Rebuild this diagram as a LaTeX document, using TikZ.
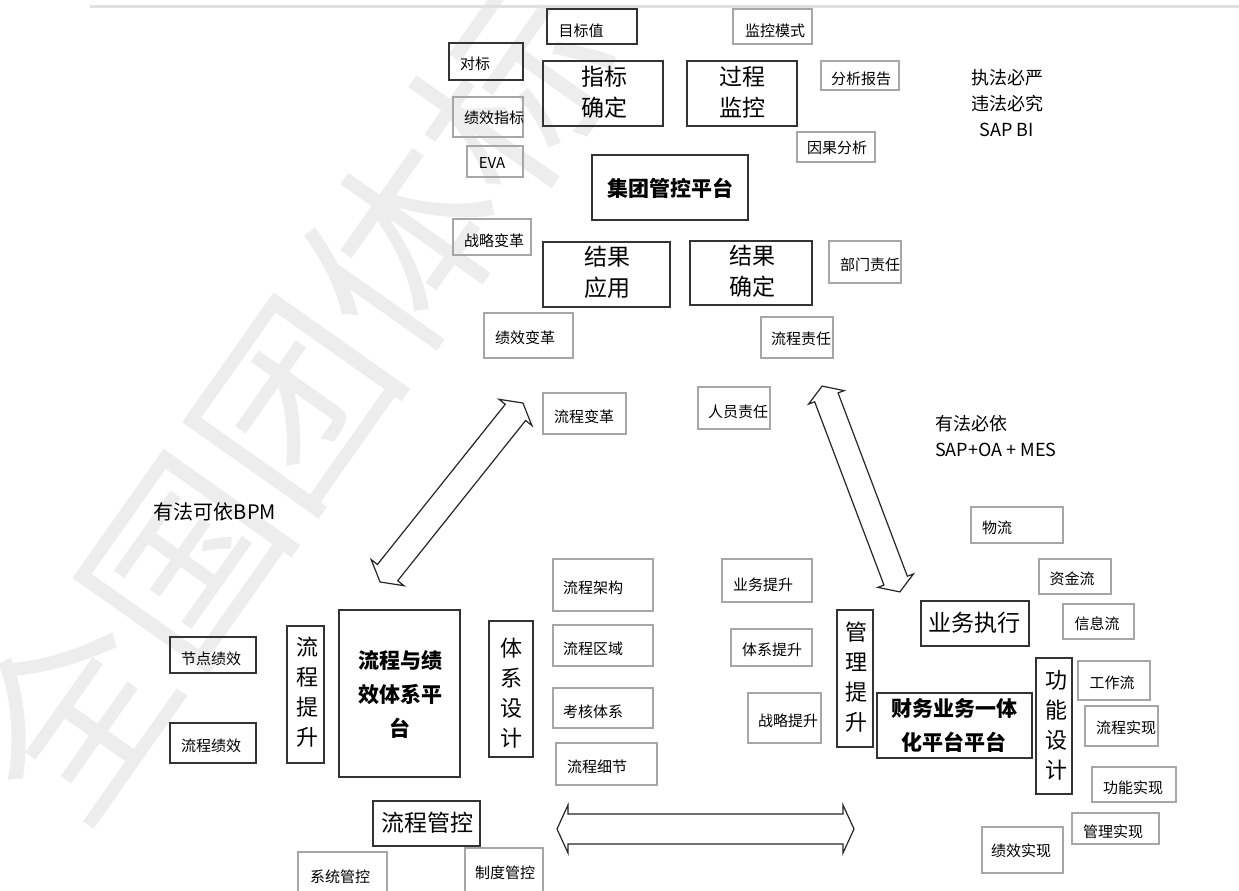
\documentclass[tikz,border=0pt]{standalone}
\usepackage{fontspec}
\setmainfont{Noto Sans CJK SC}
\usetikzlibrary{fit}
\tikzset{
  dbox/.style={draw=black!80, line width=1.3pt, inner sep=0pt},
  gbox/.style={draw=black!35, line width=1.4pt, inner sep=0pt},
  lbl/.style={inner sep=0pt, font=\fontsize{15}{18}\selectfont},
  big/.style={inner sep=0pt, font=\fontsize{23}{31}\selectfont, align=center},
  bigb/.style={inner sep=0pt, font=\fontsize{21}{34}\selectfont\bfseries, align=center},
  vert/.style={inner sep=0pt, font=\fontsize{22}{30}\selectfont, align=center},
  note/.style={inner sep=0pt, font=\fontsize{18}{26}\selectfont, align=left},
  blockarrow/.style={draw=black!85, line width=1.2pt, fill=white, line join=miter},
}
% box with separately placed text
\newcommand\bx[7]{\node[#1, fit={(#3)(#4)}] (#2) {}; \node[#6] (#2-t) at (#5) {#7};}
% block double arrow: centre, angle, length, shaft half width, head half width, head length
\newcommand\dblarrow[6]{%
  \begin{scope}[shift={(#1)}, rotate=#2]
    \draw[blockarrow] (-#3/2,0) -- (-#3/2+#6,#5) -- (-#3/2+#6,#4) -- (#3/2-#6,#4) -- (#3/2-#6,#5)
      -- (#3/2,0) -- (#3/2-#6,-#5) -- (#3/2-#6,-#4) -- (-#3/2+#6,-#4) -- (-#3/2+#6,-#5) -- cycle;
  \end{scope}}
\begin{document}
\begin{tikzpicture}[x=1pt, y=-1pt]
\useasboundingbox (0,0) rectangle (1239,891);
\begin{scope}
\clip (0,0) rectangle (1239,891);
\fill[white] (0,0) rectangle (1239,891);
% watermark
\node[inner sep=0pt, anchor=west, rotate=54.8, text=black!7, font=\fontsize{191}{191}\selectfont] (wm) at (17,793) {全国团体标};
% top shadow line
\draw[black!12, line width=3pt] (90,7) -- (1239,7);

% ---------- top group ----------
\bx{dbox}{mbz}{547,9}{637,44}{581,31}{lbl}{目标值}
\bx{gbox}{jkms}{733,9}{812,44}{775,31}{lbl}{监控模式}
\bx{dbox}{db}{449,43}{523,80}{475,64}{lbl}{对标}
\bx{dbox}{zbqd}{543,61}{663,126}{604,92}{big}{指标\\确定}
\bx{dbox}{gcjk}{687,61}{797,126}{742,92}{big}{过程\\监控}
\bx{gbox}{fxbg}{821,61}{899,90}{861,79}{lbl}{分析报告}
\bx{gbox}{jxzb}{453,97}{523,137}{494,118}{lbl}{绩效指标}
\bx{gbox}{ygfx}{797,132}{875,162}{837,148}{lbl}{因果分析}
\bx{gbox}{eva}{467,146}{523,177}{492,163}{lbl}{EVA}
\bx{dbox}{jtgk}{592,155}{748,220}{670,188}{bigb}{集团管控平台}
\bx{gbox}{zlbg}{453,219}{531,255}{494,241}{lbl}{战略变革}
\bx{dbox}{jgyy}{543,242}{670,307}{607,272}{big}{结果\\应用}
\bx{dbox}{jgqd}{690,241}{812,305}{752,271}{big}{结果\\确定}
\bx{gbox}{bmzr}{829,241}{901,283}{870,265}{lbl}{部门责任}
\bx{gbox}{jxbg}{484,313}{573,358}{525,338}{lbl}{绩效变革}
\bx{gbox}{lczr}{761,317}{833,358}{801,339}{lbl}{流程责任}
\bx{gbox}{lcbg}{543,393}{626,434}{584,417}{lbl}{流程变革}
\bx{gbox}{ryzr}{698,387}{770,429}{738,412}{lbl}{人员责任}

\node[note, align=center] (zf) at (1007,103) {执法必严\\违法必究\\SAP BI};
\node[note, anchor=north west] (yfby) at (935,415) {有法必依\\SAP+OA + MES};
\node[inner sep=0pt, font=\fontsize{20}{24}\selectfont] (yfky) at (215,512) {有法可依BPM};

% ---------- left group ----------
\bx{dbox}{jdjx}{170,637}{256,673}{211,659}{lbl}{节点绩效}
\bx{dbox}{lcjx}{170,723}{256,763}{211,746}{lbl}{流程绩效}
\bx{dbox}{lcts}{287,626}{324,763}{307,692}{vert}{流\\程\\提\\升}
\bx{dbox}{lcpt}{339,610}{460,777}{400,694}{bigb}{流程与绩\\效体系平\\台}
\bx{dbox}{txsj}{489,621}{533,757}{511,693}{vert}{体\\系\\设\\计}
\bx{dbox}{lcgk}{373,801}{480,846}{427,823}{big}{流程管控}
\bx{gbox}{xtgk}{298,852}{387,900}{340,877}{lbl}{系统管控}
\bx{gbox}{zdgk}{465,848}{543,900}{505,873}{lbl}{制度管控}

% ---------- middle ----------
\bx{gbox}{lcjg}{553,559}{653,611}{593,588}{lbl}{流程架构}
\bx{gbox}{lcqy}{553,625}{653,666}{593,649}{lbl}{流程区域}
\bx{gbox}{khtx}{553,688}{653,728}{593,712}{lbl}{考核体系}
\bx{gbox}{lcxj}{556,743}{657,785}{597,767}{lbl}{流程细节}
\bx{gbox}{ywts}{722,559}{812,602}{763,585}{lbl}{业务提升}
\bx{gbox}{txts}{731,629}{812,666}{772,650}{lbl}{体系提升}
\bx{gbox}{zlts}{748,693}{821,743}{788,721}{lbl}{战略提升}
\bx{dbox}{glts}{837,610}{873,747}{856,677}{vert}{管\\理\\提\\升}

% ---------- right group ----------
\bx{gbox}{wl}{971,507}{1063,543}{997,528}{lbl}{物流}
\bx{gbox}{zjl}{1039,559}{1111,594}{1072,579}{lbl}{资金流}
\bx{gbox}{xxl}{1063,604}{1134,639}{1097,624}{lbl}{信息流}
\bx{dbox}{ywzx}{921,601}{1029,646}{974,623}{big}{业务执行}
\bx{dbox}{cwyw}{877,693}{1032,758}{954,725}{bigb}{财务业务一体\\化平台平台}
\bx{dbox}{gnsj}{1036,658}{1072,794}{1056,725}{vert}{功\\能\\设\\计}
\bx{gbox}{gzl}{1078,661}{1150,700}{1112,683}{lbl}{工作流}
\bx{gbox}{lcsx}{1085,706}{1158,746}{1126,728}{lbl}{流程实现}
\bx{gbox}{gnsx}{1092,767}{1176,802}{1133,788}{lbl}{功能实现}
\bx{gbox}{glsx}{1072,813}{1159,844}{1113,832}{lbl}{管理实现}
\bx{gbox}{jxsx}{982,827}{1063,873}{1021,851}{lbl}{绩效实现}

% ---------- block arrows ----------
\dblarrow{451.5,492.5}{51.4}{229}{13}{21}{12}
\dblarrow{861,489}{-69.3}{220}{12.5}{19}{12}
\dblarrow{705.5,829}{0}{297}{15}{24}{11}
\end{scope}
\end{tikzpicture}
\end{document}
